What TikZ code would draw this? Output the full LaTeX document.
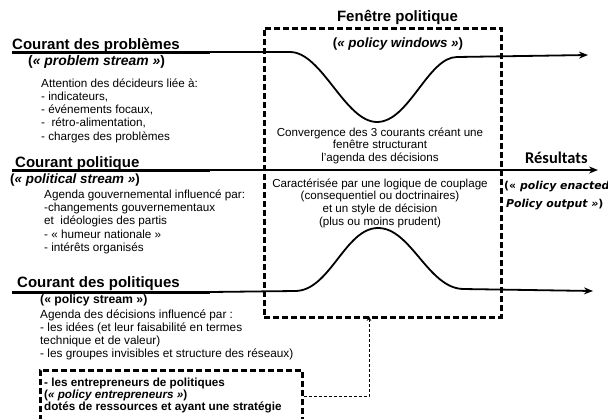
\documentclass[tikz,border=0pt]{standalone}
\usepackage{fontspec}
\setmainfont{Liberation Sans}
\newfontfamily\carl{Carlito}
\newfontfamily\dvs{DejaVu Sans}
\usetikzlibrary{arrows.meta}
\begin{document}
\begin{tikzpicture}[x=1pt,y=-1pt,
  title/.style={font=\fontsize{15}{18}\selectfont\bfseries, inner sep=0pt, anchor=base west},
  sub/.style={inner sep=0pt, anchor=base west},
  body/.style={font=\fontsize{11.7}{13.3}\selectfont, inner sep=0pt, anchor=base west},
  cbody/.style={font=\fontsize{11.6}{12.9}\selectfont, inner sep=0pt, anchor=base},
  ul/.style={line width=3pt},
  stream/.style={line width=1.8pt, -{Stealth[length=9pt,width=7pt]}},
  winbox/.style={draw, line width=2.6pt, dash pattern=on 6pt off 3pt, inner sep=0pt},
  link/.style={line width=0.9pt, dash pattern=on 3pt off 2pt, -{Stealth[length=5pt,width=4.5pt]}}
]
\useasboundingbox (0,0) rectangle (608,418);
\clip (0,0) rectangle (608,418);
\fill[white] (0,0) rectangle (608,418);

% window box
\node[winbox, minimum width=237pt, minimum height=289pt, anchor=north west] (win) at (263,27) {};
\node[title, anchor=base] (wtitle) at (397.5,21) {Fenêtre politique};
\node[sub, anchor=base, font=\fontsize{13.4}{16}\selectfont\bfseries] (wsub) at (398,47) {(\textit{« policy windows »})};

% entrepreneurs box
\node[winbox, minimum width=262pt, minimum height=52pt, anchor=north west] (ent) at (39,369) {};
\node[body, font=\fontsize{11.7}{12.3}\selectfont\bfseries] (enttxt) at (44,386) {\begin{tabular}[t]{@{}l@{}}- les entrepreneurs de politiques\\(\textit{« policy entrepreneurs »})\\dotés de ressources et ayant une stratégie\end{tabular}};

% problem stream
\coordinate (pa) at (12,52);
\coordinate (pb) at (210,52);
\coordinate (pe) at (588,55);
\draw[ul] (pa) -- (pb);
\draw[stream] (pb) -- (290,52) .. controls (322,52) and (345,122) .. (377,122) .. controls (409,122) and (428,57) .. (457,57) -- (pe);
\node[title] (t1) at (12,49) {Courant des problèmes};
\node[sub, font=\fontsize{13.9}{16}\selectfont\bfseries] (t1s) at (28,65) {(\textit{« problem stream »})};
\node[body] (b1) at (41,87) {\begin{tabular}[t]{@{}l@{}}Attention des décideurs liée à:\\- indicateurs,\\- événements focaux,\\-~ rétro-alimentation,\\- charges des problèmes\end{tabular}};

% political stream
\coordinate (qa) at (12,170);
\coordinate (qb) at (210,170);
\coordinate (qe) at (598,170);
\draw[ul] (qa) -- (qb);
\draw[stream] (qb) -- (qe);
\node[title] (t2) at (15,167) {Courant politique};
\node[sub, font=\fontsize{13.4}{16}\selectfont\bfseries] (t2s) at (10,183) {(\textit{« political stream »})};
\node[body, font=\fontsize{11.7}{13.4}\selectfont] (b2) at (44,198) {\begin{tabular}[t]{@{}l@{}}Agenda gouvernemental influencé par:\\-changements gouvernementaux\\et~ idéologies des partis\\- « humeur nationale »\\- intérêts organisés\end{tabular}};

% policy stream
\coordinate (ra) at (12,292);
\coordinate (rb) at (210,292);
\coordinate (re) at (593,291);
\draw[ul] (ra) -- (rb);
\draw[stream] (rb) -- (295,291) .. controls (330,291) and (345,228) .. (378,228) .. controls (411,228) and (428,288) .. (463,289) -- (re);
\node[title] (t3) at (17,287) {Courant des politiques};
\node[sub, font=\fontsize{12.2}{15}\selectfont\bfseries] (t3s) at (40,303) {(« policy stream »)};
\node[body, font=\fontsize{11.8}{13}\selectfont] (b3) at (40,318) {\begin{tabular}[t]{@{}l@{}}Agenda des décisions influencé par :\\- les idées (et leur faisabilité en termes\\technique et de valeur)\\- les groupes invisibles et structure des réseaux)\end{tabular}};

% window texts
\node[cbody] (c1) at (380,136) {\begin{tabular}[t]{@{}c@{}}Convergence des 3 courants créant une\\fenêtre structurant\\l'agenda des décisions\end{tabular}};
\node[cbody] (c2) at (380,187) {\begin{tabular}[t]{@{}c@{}}Caractérisée par une logique de couplage\\(consequentiel ou doctrinaires)\\et un style de décision\\(plus ou moins prudent)\end{tabular}};

% results
\node[title, font=\fontsize{16.4}{18}\carl\bfseries] (res) at (525,163) {Résultats};
\node[body, font=\fontsize{10.9}{18}\dvs\bfseries] (resout) at (504,189) {\begin{tabular}[t]{@{}l@{}}(« \textit{policy enacted}\\\textit{\,Policy output »})\end{tabular}};

% link
\coordinate (wa) at (369,316);
\draw[link] (ent.east) -| (wa);
\end{tikzpicture}
\end{document}
